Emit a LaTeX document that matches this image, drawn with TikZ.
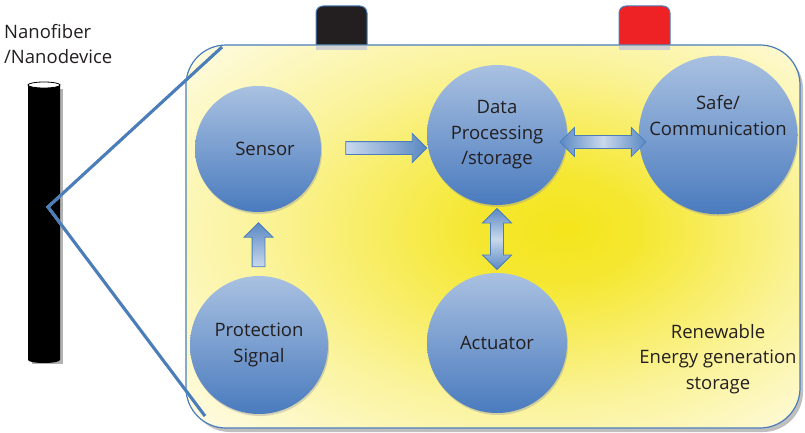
\documentclass[tikz,border=0pt]{standalone}
\usepackage{fontspec}
\setmainfont{Open Sans}
\usetikzlibrary{shapes.arrows,calc,shadows}

\definecolor{frameblue}{HTML}{4A7EBB}
\definecolor{balltop}{HTML}{A9C1E1}
\definecolor{ballbot}{HTML}{4A7BBE}
\definecolor{arrowlight}{HTML}{C9D8EC}
\definecolor{arrowdark}{HTML}{5A88C3}
\definecolor{cream}{HTML}{FFFDF3}
\definecolor{glowyellow}{HTML}{F4E51C}
\definecolor{inkgray}{HTML}{231F20}
\definecolor{batred}{HTML}{EE2124}

\pgfdeclareradialshading{glow}{\pgfpoint{6bp}{1bp}}{color(0bp)=(glowyellow);
  color(7bp)=(glowyellow!90!cream); color(22bp)=(glowyellow!42!cream);
  color(39bp)=(cream); color(50bp)=(cream)}

\tikzset{
  ball/.style={circle, minimum size=#1, inner sep=0pt, top color=balltop,
    bottom color=ballbot, text=inkgray, align=center,
    font=\fontsize{18.5}{25.5}\selectfont,
    drop shadow={shadow xshift=1pt, shadow yshift=-2pt, fill=black!40, opacity=.4}},
  flowarrow/.style={single arrow, draw=frameblue, line width=.8pt, inner sep=6pt,
    minimum height=#1, minimum width=28pt, single arrow head extend=8pt},
  twoarrow/.style={double arrow, draw=frameblue, line width=.8pt, inner sep=6pt,
    minimum height=#1, minimum width=29pt, double arrow head extend=8pt},
  txt/.style={text=inkgray, align=center, font=\fontsize{18.5}{25.5}\selectfont}
}

\begin{document}
\begin{tikzpicture}[x=1pt,y=-1pt]
\useasboundingbox (0,0) rectangle (805,433);

% battery poles
\draw[frameblue, line width=1pt, fill=inkgray] (316,46) [rounded corners=7pt] -- (316,6) -- (367,6) [sharp corners] -- (367,46);
\draw[frameblue, line width=1pt, fill=batred] (619,46) [rounded corners=7pt] -- (619,6) -- (670,6) [sharp corners] -- (670,46);

% outline
\fill[black!25, rounded corners=40pt] (190,49) rectangle (803,432);
\draw[frameblue, line width=1.2pt, rounded corners=40pt, shading=glow] (186,45) rectangle (800,428);
\fill[black!18] (316,46) rectangle (367,50) (619,46) rectangle (670,50);

% fiber
\fill[black!30] (32,89) rectangle (63,364);
\fill[black] (28,85) rectangle (60,360) (44,360) ellipse [x radius=16pt, y radius=3pt];
\filldraw[fill=white, draw=black, line width=.8pt] (44,85) ellipse [x radius=16pt, y radius=3pt];
\node[txt, align=left, anchor=north west, inner sep=0pt] (fiberlabel) at (4,24) {Nanofiber\\/Nanodevice};

% zoom
\coordinate (pin) at (48,207);
\coordinate (ztop) at (222,47);
\coordinate (zbot) at (205,416);
\draw[black!25, line width=3pt, xshift=2pt, yshift=-2pt] (ztop) -- (pin) -- (zbot);
\draw[frameblue, line width=3pt] (ztop) -- (pin) -- (zbot);

% units
\node[ball=126pt] (sensor) at (258,149) {\hspace*{14pt}Sensor};
\node[ball=140pt] (data) at (497,135) {Data\\Processing\\/storage};
\node[ball=124pt] (safe) at (718,135) {Safe/\\Communication\\[14pt]};
\node[ball=138pt] (protect) at (259,345) {Protection\\Signal};
\node[ball=140pt] (act) at (497,343) {Actuator};
\node[txt] (energy) at (718,359) {Renewable\\Energy generation\\storage};

% links
\node[flowarrow=81pt, left color=arrowlight, right color=arrowdark] (a1) at ($(sensor.east)!.5!(data.west)+(9,6)$) {};
\node[twoarrow=86pt, left color=arrowdark, right color=arrowdark, middle color=arrowlight] (a2) at ($(data.east)!.5!(safe.west)+(0,7)$) {};
\node[twoarrow=61pt, shape border rotate=90, top color=arrowdark, bottom color=arrowdark, middle color=arrowlight] (a3) at ($(data.south)!.5!(act.north)$) {};
\node[flowarrow=44pt, shape border rotate=90, top color=arrowdark, bottom color=arrowlight] (a4) at ($(protect.north)!.5!(sensor.south)+(0,4)$) {};
\end{tikzpicture}
\end{document}
